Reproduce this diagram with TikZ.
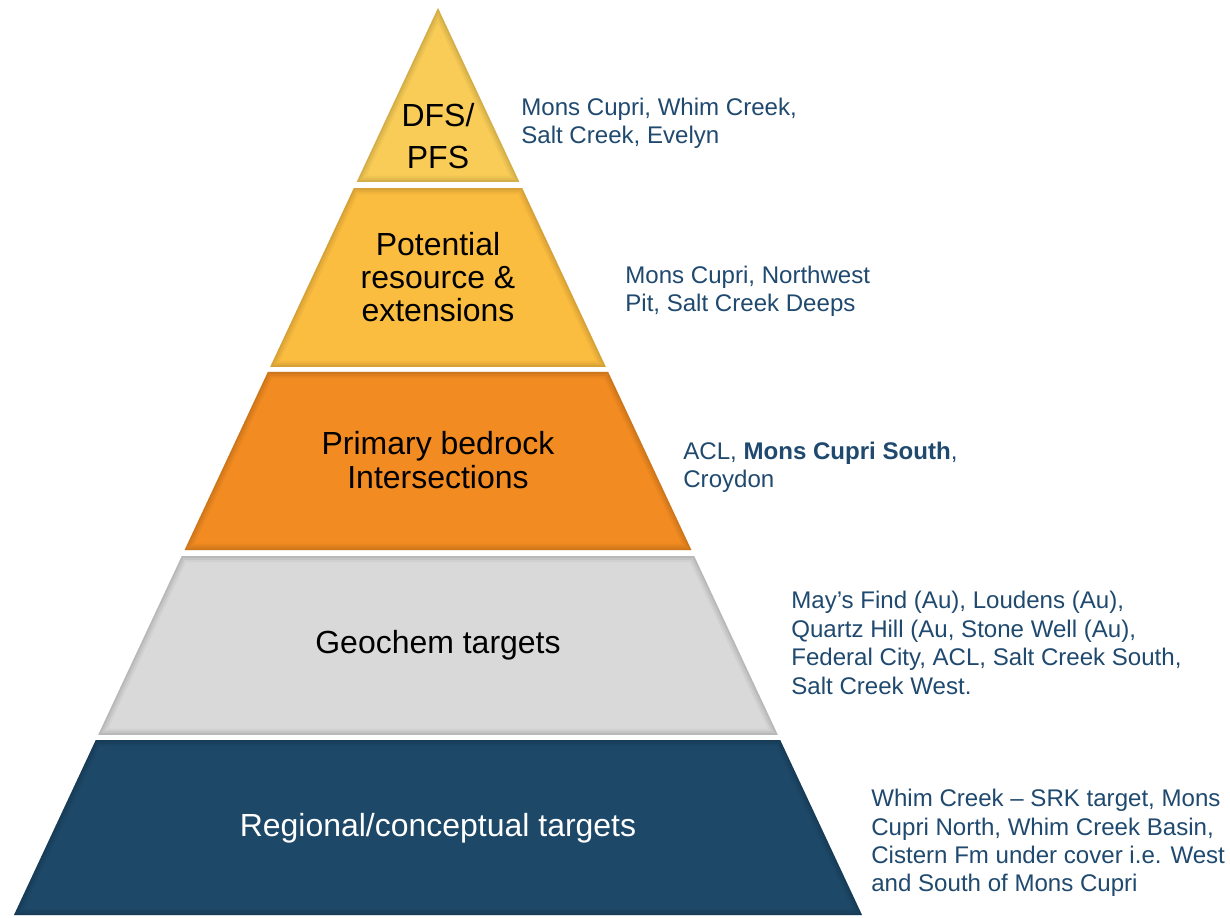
\documentclass[tikz,border=0pt]{standalone}
\usepackage{fontspec}
\setmainfont{Liberation Sans}
\usetikzlibrary{calc}

\definecolor{pfscol}{RGB}{248,204,86}
\definecolor{rescol}{RGB}{251,189,64}
\definecolor{bedcol}{RGB}{242,139,33}
\definecolor{geocol}{RGB}{217,217,217}
\definecolor{regcol}{RGB}{29,72,104}
\definecolor{notecol}{RGB}{31,73,110}

\begin{document}
\begin{tikzpicture}[x=0.02cm,y=-0.02cm,
    every node/.style={inner sep=0pt},
    level/.style={align=center,font=\fontsize{18.2}{19}\selectfont},
    note/.style={anchor=west,align=left,text=notecol,font=\fontsize{13.7}{16.2}\selectfont}]

  \useasboundingbox (0,0) rectangle (1230,917);

  \coordinate (apex) at (438,8);
  \coordinate (bl) at (14,915);
  \coordinate (br) at (862,915);

  % the five slices of the pyramid
  \foreach \ya/\yb/\col in {0/0.1918/pfscol,0.1985/0.3958/rescol,
      0.4013/0.5976/bedcol,0.6042/0.8015/geocol,0.8071/1/regcol}
  {
    \fill[\col] ($(apex)!\ya!(bl)$) -- ($(apex)!\yb!(bl)$)
      -- ($(apex)!\yb!(br)$) -- ($(apex)!\ya!(br)$) -- cycle;
    \begin{scope}
      \clip ($(apex)!\ya!(bl)$) -- ($(apex)!\yb!(bl)$)
        -- ($(apex)!\yb!(br)$) -- ($(apex)!\ya!(br)$) -- cycle;
      \foreach \w/\o in {7pt/0.08,4.5pt/0.1,2pt/0.14}
        \draw[\col!50!black,line width=\w,opacity=\o,line join=round]
          ($(apex)!\ya!(bl)$) -- ($(apex)!\yb!(bl)$)
          -- ($(apex)!\yb!(br)$) -- ($(apex)!\ya!(br)$) -- cycle;
    \end{scope}
  }

  \node[level] (lA) at (438,136) {DFS/\\[5pt]PFS};
  \node[level] (lB) at (438,277) {Potential\\resource \&\\extensions};
  \node[level] (lC) at (438,460) {Primary bedrock\\Intersections};
  \node[level] (lD) at (438,645) {Geochem targets};
  \node[level,text=white] (lE) at (438,828) {Regional/conceptual targets};

  \node[note] (nA) at (521,123) {Mons Cupri, Whim Creek,\\Salt Creek, Evelyn};
  \node[note] (nB) at (625,291) {Mons Cupri, Northwest\\Pit, Salt Creek Deeps};
  \node[note] (nC) at (683,467) {ACL, \textbf{Mons Cupri South},\\Croydon};
  \node[note] (nD) at (791,643) {May’s Find (Au), Loudens (Au),\\Quartz Hill (Au, Stone Well (Au),\\Federal City, ACL, Salt Creek South,\\Salt Creek West.};
  \node[note] (nE) at (871,843) {Whim Creek – SRK target, Mons\\Cupri North, Whim Creek Basin,\\Cistern Fm under cover i.e. West\\and South of Mons Cupri};
\end{tikzpicture}
\end{document}
